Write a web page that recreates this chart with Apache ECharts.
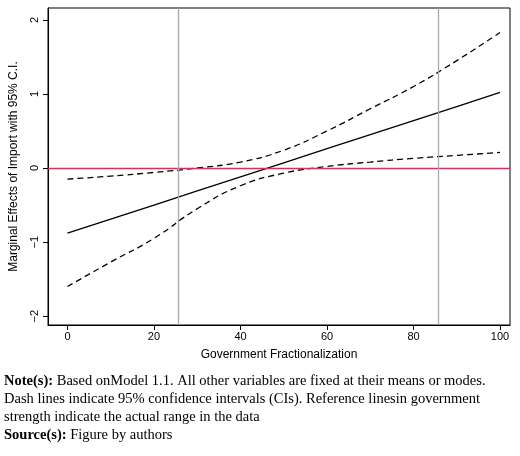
<!DOCTYPE html>
<html>
<head>
<meta charset="UTF-8" />
<script src="https://cdn.jsdelivr.net/npm/echarts@6/dist/echarts.min.js"></script>
<style>body{margin:0}#chart{width:520px;height:456px}</style>
</head>
<body>
<div id="chart"></div>
<script>
const xs = [0, 10, 20, 30, 40, 50, 60, 70, 80, 90, 100];
const effect = [-0.88, -0.69, -0.50, -0.31, -0.12, 0.07, 0.26, 0.45, 0.64, 0.83, 1.02];
const upper = [-0.15, -0.11, -0.06, 0.0, 0.08, 0.24, 0.5, 0.8, 1.1, 1.45, 1.83];
const lower = [-1.6, -1.27, -0.95, -0.55, -0.24, -0.07, 0.02, 0.08, 0.13, 0.17, 0.21];
const refLines = [25.5, 85.8];
const yTicks = [-2, -1, 0, 1, 2];
const xTicks = [0, 20, 40, 60, 80, 100];

const pair = a => xs.map((x, i) => [x, a[i]]);
const chart = echarts.init(document.getElementById('chart'));
const font = 'Liberation Sans';
chart.setOption({
  animation: false,
  grid: { left: 40, right: 10, top: 8, bottom: 131, show: true, borderColor: '#000', borderWidth: 1 },
  xAxis: {
    type: 'value', min: -4.5, max: 102.3,
    name: 'Government Fractionalization', nameLocation: 'middle', nameGap: 24,
    nameTextStyle: { fontFamily: font, fontSize: 12, color: '#000' },
    axisLine: { onZero: false, lineStyle: { color: '#000' } },
    axisTick: { customValues: xTicks, length: 5, lineStyle: { color: '#000' } },
    axisLabel: { customValues: xTicks, fontFamily: font, fontSize: 11, color: '#000', margin: 6 },
    splitLine: { show: false }
  },
  yAxis: {
    type: 'value', min: -2.12, max: 2.16,
    name: 'Marginal Effects of Import with 95% C.I.', nameLocation: 'middle', nameGap: 28,
    nameTextStyle: { fontFamily: font, fontSize: 12, color: '#000' },
    axisLine: { onZero: false, lineStyle: { color: '#000' } },
    axisTick: { customValues: yTicks, length: 5, lineStyle: { color: '#000' } },
    axisLabel: { customValues: yTicks, rotate: 90, fontFamily: font, fontSize: 11, color: '#000', margin: 8,
      formatter: v => (v < 0 ? '\u2212' + (-v) : '' + v) },
    splitLine: { show: false }
  },
  series: [
    { type: 'line', data: pair(effect), showSymbol: false, lineStyle: { color: '#000', width: 1.3 },
      markLine: { silent: true, symbol: 'none', label: { show: false },
        data: [
          { yAxis: 0, lineStyle: { color: '#d0335a', type: 'solid', width: 1.3 } },
          ...refLines.map(v => ({ xAxis: v, lineStyle: { color: '#aaa', type: 'solid', width: 1.3 } }))
        ] } },
    { type: 'line', data: pair(upper), smooth: true, showSymbol: false, lineStyle: { color: '#000', width: 1.3, type: [6, 4] } },
    { type: 'line', data: pair(lower), smooth: true, showSymbol: false, lineStyle: { color: '#000', width: 1.3, type: [6, 4] } }
  ],
  graphic: [{
    type: 'text', left: 4, top: 372,
    style: {
      text: '{b|Note(s):} Based onModel 1.1. All other variables are fixed at their means or modes.\nDash lines indicate 95% confidence intervals (CIs). Reference linesin government\nstrength indicate the actual range in the data\n{b|Source(s):} Figure by authors',
      fontFamily: 'Liberation Serif', fontSize: 14.5, lineHeight: 18, fill: '#000',
      rich: { b: { fontWeight: 'bold', fontFamily: 'Liberation Serif', fontSize: 14.5 } }
    }
  }]
});
</script>
</body>
</html>
